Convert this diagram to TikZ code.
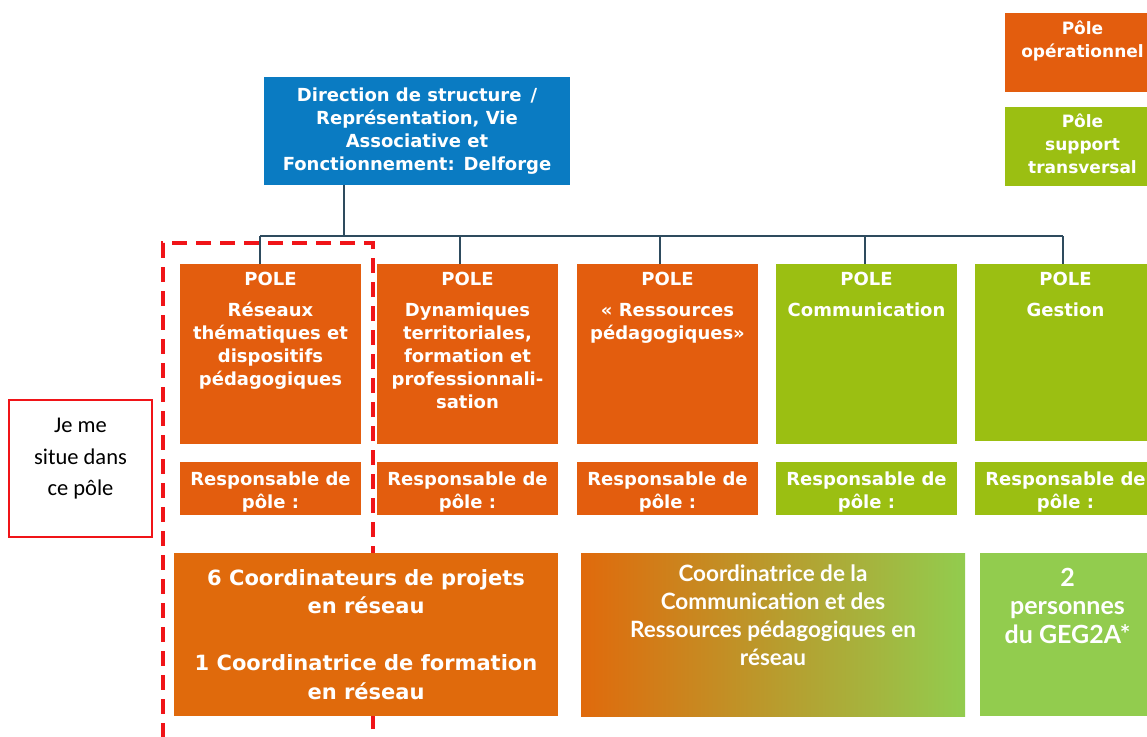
\documentclass[tikz,border=0pt]{standalone}
\usepackage{fontspec}
\setmainfont{DejaVu Sans}
\newfontfamily\gillfont{Lato}
\newfontfamily\notefont{Carlito}
\usetikzlibrary{positioning}

\definecolor{poleorange}{HTML}{E35D0E}
\definecolor{polegreen}{HTML}{9BBF12}
\definecolor{staforange}{HTML}{E06A0C}
\definecolor{stafmid}{HTML}{BDAB3A}
\definecolor{stafgreen}{HTML}{92CC4E}
\definecolor{dirblue}{HTML}{0A7BC2}
\definecolor{linkgray}{HTML}{2E4B5E}
\definecolor{markred}{HTML}{F01418}

\tikzset{
  box/.style={anchor=north west, inner sep=0pt, outer sep=0pt},
  link/.style={draw=linkgray, line width=2.5pt},
  poletext/.style={anchor=north, align=center, text=white, inner sep=0pt,
    font=\bfseries\fontsize{18}{23}\selectfont},
  legtext/.style={anchor=north, align=center, text=white, inner sep=0pt,
    font=\bfseries\fontsize{17}{23}\selectfont},
  coordtext/.style={align=center, text=white, inner sep=0pt,
    font=\bfseries\fontsize{21}{28.5}\selectfont},
  stafftext/.style={anchor=north, align=center, text=white, inner sep=0pt,
    font=\gillfont\bfseries\fontsize{22.5}{28}\selectfont},
}

\begin{document}
\begin{tikzpicture}[x=1pt,y=-1pt]
\useasboundingbox (0,0) rectangle (1147,736);
\clip (0,0) rectangle (1147,736);

% legende
\node[box, fill=poleorange, minimum width=155pt, minimum height=79pt] (legop) at (1005,13) {};
\node[legtext, below=8pt of legop.north] (legopt) {Pôle\\opérationnel};
\node[box, fill=polegreen, minimum width=155pt, minimum height=79pt] (legsup) at (1005,107) {};
\node[legtext, below=6.5pt of legsup.north] (legsupt) {Pôle\\support\\transversal};

% direction
\node[box, fill=dirblue, minimum width=306pt, minimum height=108pt] (dir) at (264,77) {};
\node[poletext, anchor=center] (dirt) at (dir.center)
  {Direction de structure\enspace/\\Représentation, Vie\\Associative et\\Fonctionnement:\enspace Delforge};

% cadre rouge (sous les boites)
\node[box, draw=markred, line width=4pt, dash pattern=on 15pt off 9pt,
      minimum width=210pt, minimum height=540pt] (focus) at (163,243) {};

% poles
\foreach \n/\x/\c/\h in {1/180/poleorange/180, 2/377/poleorange/180, 3/577/poleorange/180,
                         4/776/polegreen/180, 5/975/polegreen/177} {
  \node[box, fill=\c, minimum width=181pt, minimum height=\h pt] (pole\n) at (\x,264) {};
  \node[box, fill=\c, minimum width=181pt, minimum height=53pt] (resp\n) at (\x,462) {};
  \node[poletext, below=10pt of resp\n.north] (resp\n t) {Responsable de\\pôle :};
}
\node[poletext, below=8pt of pole1.north] (pole1t) {POLE\\[8pt]Réseaux\\thématiques et\\dispositifs\\pédagogiques};
\node[poletext, below=8pt of pole2.north] (pole2t) {POLE\\[8pt]Dynamiques\\territoriales,\\formation et\\professionnali-\\sation};
\node[poletext, below=8pt of pole3.north] (pole3t) {POLE\\[8pt]« Ressources\\pédagogiques»};
\node[poletext, below=8pt of pole4.north] (pole4t) {POLE\\[8pt]Communication};
\node[poletext, below=8pt of pole5.north] (pole5t) {POLE\\[8pt]Gestion};

% liaisons
\coordinate (bus) at (344,236);
\foreach \n/\x in {1/260, 2/460, 3/660, 4/865, 5/1063}
  \coordinate (drop\n) at (\x,236);
\draw[link] (dir.south -| bus) -- (bus);
\draw[link] (drop1) -- (drop5);
\foreach \n in {1,...,5}
  \draw[link] (drop\n) -- (drop\n |- pole\n.north);

% equipes
\node[box, fill=staforange, minimum width=384pt, minimum height=163pt] (coord) at (174,553) {};
\node[coordtext] (coordt) at (coord.center)
  {6 Coordinateurs de projets\\en réseau\\[28.5pt]1 Coordinatrice de formation\\en réseau};
\node[box, left color=staforange, middle color=stafmid, right color=stafgreen,
      minimum width=384pt, minimum height=163pt] (comm) at (581,553) {};
\node[stafftext, below=12pt of comm.north] (commt)
  {Coordinatrice de la\\Communication et des\\Ressources pédagogiques en\\réseau};
\node[box, fill=stafgreen, minimum width=175pt, minimum height=163pt] (geg) at (980,553) {};
\node[stafftext, below=15pt of geg.north, font=\gillfont\bfseries\fontsize{25}{28.5}\selectfont] (gegt)
  {2\\personnes\\du GEG2A*};

% remarque
\node[box, draw=markred, line width=2pt, minimum width=143pt, minimum height=137pt] (note) at (9,400) {};
\node[anchor=north, align=center, inner sep=0pt, below=18pt of note.north,
      font=\notefont\fontsize{22.5}{31.5}\selectfont] (notet) {Je me\\situe dans\\ce pôle};

\end{tikzpicture}
\end{document}
